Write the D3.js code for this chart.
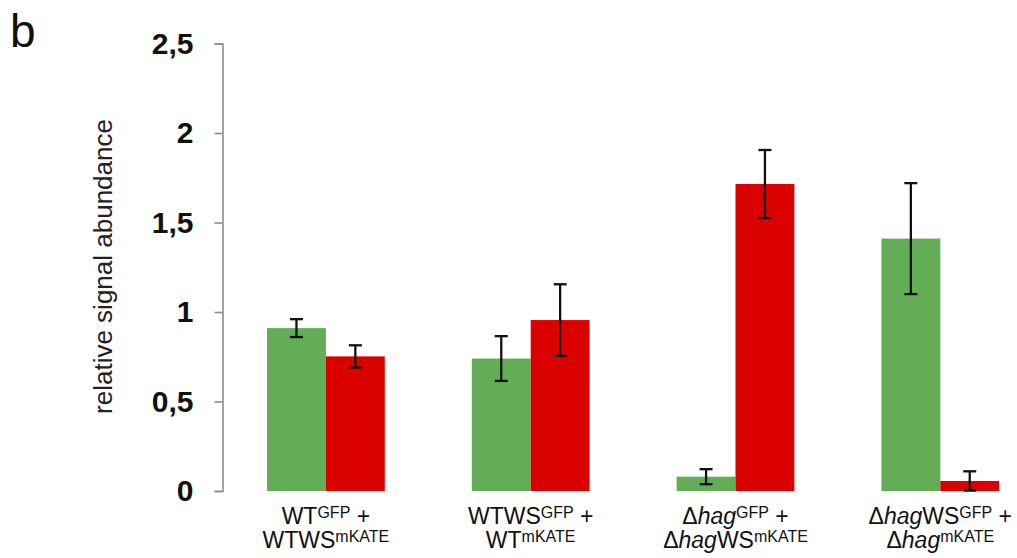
<!DOCTYPE html>
<html>
<head>
<meta charset="utf-8">
<script src="https://cdn.jsdelivr.net/npm/d3@7"></script>
<style>
  html, body { margin: 0; padding: 0; background: #fff; }
  svg { display: block; font-family: "Liberation Sans", Arial, sans-serif; }
</style>
</head>
<body>
<svg id="chart" width="1017" height="558"></svg>
<script>
// Co-culture strains (two-line labels, rich text segments)
const categoryLabels = [
  [[{t: "WT"}, {t: "GFP", sup: true}, {t: " +"}],
   [{t: "WTWS"}, {t: "mKATE", sup: true}]],
  [[{t: "WTWS"}, {t: "GFP", sup: true}, {t: " +"}],
   [{t: "WT"}, {t: "mKATE", sup: true}]],
  [[{t: "Δ"}, {t: "hag", it: true}, {t: "GFP", sup: true}, {t: " +"}],
   [{t: "Δ"}, {t: "hag", it: true}, {t: "WS"}, {t: "mKATE", sup: true}]],
  [[{t: "Δ"}, {t: "hag", it: true}, {t: "WS"}, {t: "GFP", sup: true}, {t: " +"}],
   [{t: "Δ"}, {t: "hag", it: true}, {t: "mKATE", sup: true}]]
];
const categories = ["WT+WTWS", "WTWS+WT", "hag+hagWS", "hagWS+hag"];

// Relative signal abundance, mean and error
const gfpValues   = [0.91, 0.74, 0.08, 1.41];
const gfpErrors   = [0.05, 0.125, 0.042, 0.31];
const mkateValues = [0.752, 0.955, 1.715, 0.056];
const mkateErrors = [0.062, 0.2, 0.19, 0.054];

const tickValues = [0, 0.5, 1, 1.5, 2, 2.5];
const tickLabels = ["0", "0,5", "1", "1,5", "2", "2,5"];

const series = [
  {key: "GFP", values: gfpValues, errors: gfpErrors, color: "#63ad56"},
  {key: "mKATE", values: mkateValues, errors: mkateErrors, color: "#db0000"}
];

const svg = d3.select("#chart");

const axisX = 222.5;
const y = d3.scaleLinear().domain([0, 2.5]).range([491, 43.5]);

const x = d3.scaleBand()
  .domain(categories)
  .range([axisX + 1, axisX + 1 + 4 * 204.8])
  .paddingInner(0.425)
  .paddingOuter(0.2125);

const xs = d3.scaleBand()
  .domain(series.map(s => s.key))
  .range([0, x.bandwidth()]);

// Panel letter
svg.append("text")
  .attr("x", 10).attr("y", 47)
  .attr("font-size", 46)
  .attr("fill", "#111")
  .text("b");

// Y axis
const yAxis = d3.axisLeft(y)
  .tickValues(tickValues)
  .tickFormat((d, i) => tickLabels[i])
  .tickSize(8)
  .tickPadding(21);

const gy = svg.append("g")
  .attr("transform", `translate(${axisX},0)`)
  .call(yAxis);
gy.select(".domain").attr("stroke", "#8c8c8c").attr("stroke-width", 1.6);
gy.selectAll(".tick line").attr("stroke", "#8c8c8c").attr("stroke-width", 1.6);
gy.selectAll(".tick text")
  .attr("font-family", "'Liberation Sans', Arial, sans-serif")
  .attr("font-size", 30)
  .attr("font-weight", "bold")
  .attr("fill", "#111");

// Y axis title
svg.append("text")
  .attr("transform", "translate(112,266.5) rotate(-90)")
  .attr("text-anchor", "middle")
  .attr("font-size", 26)
  .attr("fill", "#222")
  .text("relative signal abundance");

// Bars
const groups = svg.append("g").selectAll("g")
  .data(categories)
  .join("g")
  .attr("transform", d => `translate(${x(d)},0)`);

series.forEach(s => {
  groups.append("rect")
    .attr("x", xs(s.key))
    .attr("width", xs.bandwidth())
    .attr("y", (d, i) => y(s.values[i]))
    .attr("height", (d, i) => y(0) - y(s.values[i]))
    .attr("fill", s.color);
});

// Error bars
const capHalf = 6.5;
series.forEach(s => {
  const eb = groups.append("g")
    .attr("stroke", "#111")
    .attr("stroke-width", 2.3);
  const cx = xs(s.key) + xs.bandwidth() / 2;
  eb.append("line")
    .attr("x1", cx).attr("x2", cx)
    .attr("y1", (d, i) => y(s.values[i] + s.errors[i]))
    .attr("y2", (d, i) => y(s.values[i] - s.errors[i]));
  eb.append("line")
    .attr("x1", cx - capHalf).attr("x2", cx + capHalf)
    .attr("y1", (d, i) => y(s.values[i] + s.errors[i]))
    .attr("y2", (d, i) => y(s.values[i] + s.errors[i]));
  eb.append("line")
    .attr("x1", cx - capHalf).attr("x2", cx + capHalf)
    .attr("y1", (d, i) => y(s.values[i] - s.errors[i]))
    .attr("y2", (d, i) => y(s.values[i] - s.errors[i]));
});

// Category labels
const lineBaselines = [524, 548];
categories.forEach((c, ci) => {
  const cx = x(c) + x.bandwidth() / 2;
  categoryLabels[ci].forEach((segs, li) => {
    const t = svg.append("text")
      .attr("x", cx)
      .attr("y", lineBaselines[li])
      .attr("text-anchor", "middle")
      .attr("font-size", 23)
      .attr("fill", "#111");
    let raised = false;
    segs.forEach(sg => {
      const sp = t.append("tspan").text(sg.t);
      if (sg.sup) {
        sp.attr("font-size", 16).attr("dy", raised ? 0 : -6);
        raised = true;
      } else {
        if (raised) { sp.attr("dy", 6); raised = false; }
      }
      if (sg.it) sp.attr("font-style", "italic");
    });
  });
});
</script>
</body>
</html>
